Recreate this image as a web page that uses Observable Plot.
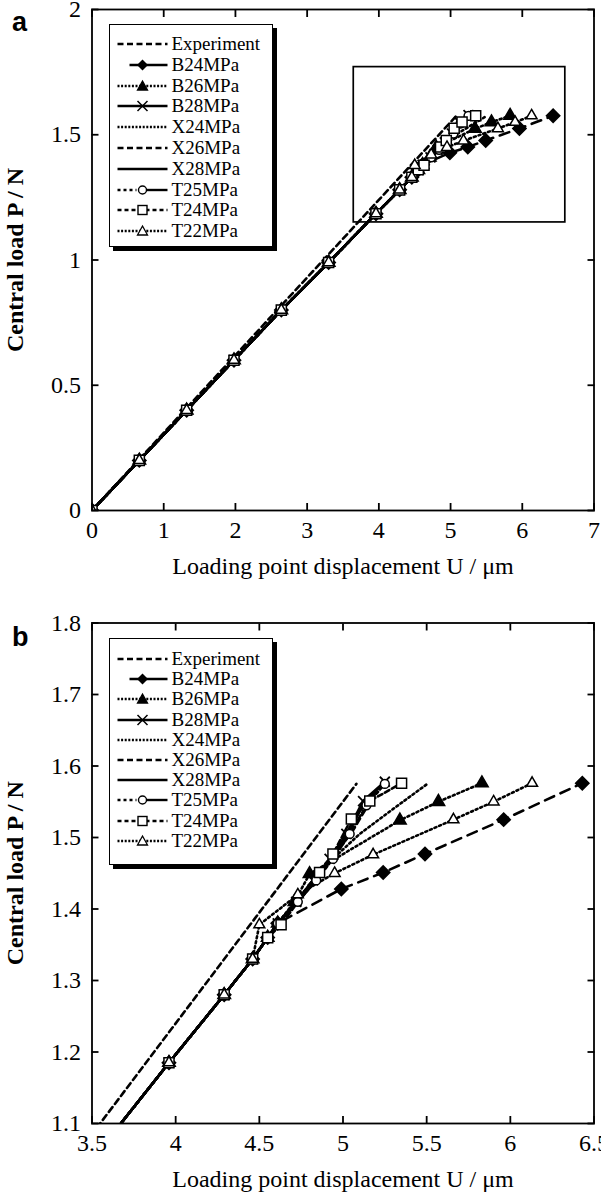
<!DOCTYPE html>
<html><head><meta charset="utf-8">
<script src="https://cdn.jsdelivr.net/npm/d3@7"></script>
<script src="https://cdn.jsdelivr.net/npm/@observablehq/plot@0.6"></script>
<style>
html,body{margin:0;padding:0;background:#fff;}
#root{position:relative;width:601px;height:1196px;overflow:hidden;font-family:"Liberation Serif","Times New Roman",serif;color:#000;}
.panel{position:absolute;left:0;}
.panel text{font-family:"Liberation Serif","Times New Roman",serif;}
.legend{position:absolute;border:1.6px solid #000;box-shadow:4px 4px 0 #000;background:#fff;box-sizing:border-box;}
.tag{position:absolute;font-family:"Liberation Sans",Arial,sans-serif;font-weight:bold;font-size:27px;line-height:27px;}
</style></head><body><div id="root"></div>
<script>
// ---- data ----
const seriesNames = ["Experiment","B24MPa","B26MPa","B28MPa","X24MPa","X26MPa","X28MPa","T25MPa","T24MPa","T22MPa"];

const U_Experiment = [0, 1.0, 2.0, 3.0, 4.0, 4.5, 5.08];
const P_Experiment = [0, 0.31, 0.62, 0.93, 1.24, 1.395, 1.575];

const U_B24 = [0, 0.66, 1.32, 1.98, 2.64, 3.30, 3.96, 4.29, 4.46, 4.55, 4.61, 4.99, 5.24, 5.49, 5.96, 6.43];
const P_B24 = [0, 0.20, 0.40, 0.60, 0.80, 0.99, 1.185, 1.28, 1.33, 1.36, 1.38, 1.428, 1.451, 1.477, 1.525, 1.576];

const U_B26 = [0, 0.66, 1.32, 1.98, 2.64, 3.30, 3.96, 4.29, 4.46, 4.55, 4.61, 4.71, 4.80, 5.34, 5.57, 5.83];
const P_B26 = [0, 0.20, 0.40, 0.60, 0.80, 0.99, 1.185, 1.28, 1.33, 1.36, 1.38, 1.41, 1.449, 1.524, 1.550, 1.576];

const U_B28 = [0, 0.66, 1.32, 1.98, 2.64, 3.30, 3.96, 4.29, 4.46, 4.55, 4.61, 4.72, 4.82, 4.92, 5.02, 5.12, 5.25];
const P_B28 = [0, 0.20, 0.40, 0.60, 0.80, 0.99, 1.185, 1.28, 1.33, 1.36, 1.38, 1.41, 1.44, 1.47, 1.505, 1.551, 1.578];

const U_X24 = [0, 0.66, 1.32, 1.98, 2.64, 3.30, 3.96, 4.29, 4.46, 4.55, 4.61, 4.72, 4.87, 5.10, 5.30, 5.51];
const P_X24 = [0, 0.20, 0.40, 0.60, 0.80, 0.99, 1.185, 1.28, 1.33, 1.36, 1.38, 1.41, 1.455, 1.505, 1.54, 1.576];

const U_X26 = [0, 0.66, 1.32, 1.98, 2.64, 3.30, 3.96, 4.29, 4.46, 4.55, 4.61, 4.73, 4.84, 4.95, 5.06, 5.20];
const P_X26 = [0, 0.20, 0.40, 0.60, 0.80, 0.99, 1.185, 1.28, 1.33, 1.36, 1.38, 1.41, 1.44, 1.475, 1.51, 1.565];

const U_X28 = [0, 0.66, 1.32, 1.98, 2.64, 3.30, 3.96, 4.29, 4.46, 4.55, 4.61, 4.72, 4.83, 4.93, 5.03, 5.13, 5.24];
const P_X28 = [0, 0.20, 0.40, 0.60, 0.80, 0.99, 1.185, 1.28, 1.33, 1.36, 1.38, 1.41, 1.44, 1.47, 1.505, 1.55, 1.575];

const U_T25 = [0, 0.66, 1.32, 1.98, 2.64, 3.30, 3.96, 4.29, 4.46, 4.55, 4.61, 4.73, 4.84, 4.94, 5.04, 5.14, 5.25];
const P_T25 = [0, 0.20, 0.40, 0.60, 0.80, 0.99, 1.185, 1.28, 1.33, 1.36, 1.38, 1.41, 1.44, 1.47, 1.505, 1.545, 1.575];

const U_T24 = [0, 0.66, 1.32, 1.98, 2.64, 3.30, 3.96, 4.29, 4.46, 4.55, 4.63, 4.86, 4.94, 5.05, 5.16, 5.35];
const P_T24 = [0, 0.20, 0.40, 0.60, 0.80, 0.99, 1.185, 1.28, 1.33, 1.36, 1.378, 1.451, 1.477, 1.526, 1.551, 1.576];

const U_T22 = [0, 0.66, 1.32, 1.98, 2.64, 3.30, 3.96, 4.29, 4.46, 4.50, 4.73, 4.95, 5.18, 5.66, 5.90, 6.13];
const P_T22 = [0, 0.20, 0.40, 0.60, 0.80, 0.99, 1.185, 1.28, 1.33, 1.378, 1.42, 1.450, 1.476, 1.525, 1.550, 1.576];

const seriesU = [U_Experiment, U_B24, U_B26, U_B28, U_X24, U_X26, U_X28, U_T25, U_T24, U_T22];
const seriesP = [P_Experiment, P_B24, P_B26, P_B28, P_X24, P_X26, P_X28, P_T25, P_T24, P_T22];

// axes / ticks
const xTicksA = [0, 1, 2, 3, 4, 5, 6, 7];
const yTicksA = [0, 0.5, 1, 1.5, 2];
const xTicksB = [3.5, 4, 4.5, 5, 5.5, 6, 6.5];
const yTicksB = [1.1, 1.2, 1.3, 1.4, 1.5, 1.6, 1.7, 1.8];
const xTitle = "Loading point displacement U / μm";
const yTitle = "Central load P / N";
// zoomed window shown in panel a (data units)
const zoomBox = [{x1: 3.65, x2: 6.6, y1: 1.15, y2: 1.77}];

// ---- styles ----
const lineDash = ["6,4", "10,7", "2,3", null, "2,3", "6,4", null, "2.5,3,2.5,3,10,3", "5,3", "2,3"];
const markSymbol = [null, "diamond2", "triangle2", "times", null, null, null, "circle", "square2", "triangle2"];
const markFill = [null, "black", "black", "none", null, null, null, "white", "white", "white"];
const markR = [0, 6, 6, 4.6, 0, 0, 0, 4.4, 6.4, 5.2];

const table = [];
seriesNames.forEach((name, i) => {
  seriesU[i].forEach((u, j) => table.push({series: name, idx: i, U: u, P: seriesP[i][j]}));
});

const FONT = "Liberation Serif, Times New Roman, serif";

function panel({xDomain, yDomain, xTicks, yTicks, height, mt, mb, box}) {
  const marks = [];
  seriesNames.forEach((name, i) => {
    const rows = table.filter(d => d.idx === i);
    marks.push(Plot.line(rows, {x: "U", y: "P", stroke: "black", strokeWidth: 2.6,
      strokeDasharray: lineDash[i] || undefined, clip: true}));
  });
  seriesNames.forEach((name, i) => {
    if (!markSymbol[i]) return;
    const rows = table.filter(d => d.idx === i);
    marks.push(Plot.dot(rows, {x: "U", y: "P", symbol: markSymbol[i], r: markR[i],
      fill: markFill[i], stroke: "black", strokeWidth: markSymbol[i] === "times" ? 1.8 : 1.5, clip: true}));
  });
  if (box) marks.push(Plot.rect(zoomBox, {x1: "x1", x2: "x2", y1: "y1", y2: "y2", fill: "none", stroke: "black", strokeWidth: 1.7}));
  marks.push(
    Plot.frame({stroke: "black", strokeWidth: 1.8}),
    Plot.axisX({anchor: "bottom", ticks: xTicks, tickSize: 0, tickPadding: 10, tickFormat: d => String(d), label: null, fontSize: 24, fontFamily: FONT}),
    Plot.axisX({anchor: "bottom", ticks: xTicks, tickSize: -7, tickFormat: () => "", label: null, strokeWidth: 1.8}),
    Plot.axisX({anchor: "top", ticks: xTicks, tickSize: -7, tickFormat: () => "", label: null, strokeWidth: 1.8}),
    Plot.axisY({anchor: "left", ticks: yTicks, tickSize: 0, tickPadding: 11, tickFormat: d => String(d), label: null, fontSize: 24, fontFamily: FONT}),
    Plot.axisY({anchor: "left", ticks: yTicks, tickSize: -7, tickFormat: () => "", label: null, strokeWidth: 1.8}),
    Plot.axisY({anchor: "right", ticks: yTicks, tickSize: -7, tickFormat: () => "", label: null, strokeWidth: 1.8}),
    Plot.text([xTitle], {text: d => d, frameAnchor: "bottom", dy: 56, lineAnchor: "middle", textAnchor: "middle", fontSize: 24, fontFamily: FONT}),
    Plot.text([yTitle], {text: d => d, frameAnchor: "left", dx: -77, rotate: -90, lineAnchor: "middle", textAnchor: "middle", fontSize: 24, fontWeight: "bold", fontFamily: FONT})
  );
  return Plot.plot({
    width: 601, height, marginTop: mt, marginBottom: mb, marginLeft: 91.5, marginRight: 7.5,
    x: {domain: xDomain}, y: {domain: yDomain},
    style: {fontFamily: FONT, fontSize: "24px", color: "black", background: "white"},
    marks
  });
}

function sample(i) {
  const y = 10, x0 = 7.5, x1 = 57.5, xc = 32.5;
  let s = "";
  if (i === 7) {
    s += `<line x1="${x0}" y1="${y}" x2="${xc - 6}" y2="${y}" stroke="black" stroke-width="2.4" stroke-dasharray="3,3"/>`;
    s += `<line x1="${xc + 4}" y1="${y}" x2="${x1}" y2="${y}" stroke="black" stroke-width="2.4"/>`;
  } else {
    const d = lineDash[i] ? `stroke-dasharray="${i === 0 || i === 5 ? "6,3.5" : i === 1 ? "none" : i === 8 ? "4,3" : "2,1.6"}"` : "";
    const start = (i === 1) ? x0 + 12 : x0;
    s += `<line x1="${start}" y1="${y}" x2="${x1}" y2="${y}" stroke="black" stroke-width="2.4" ${d}/>`;
  }
  const sym = markSymbol[i];
  if (sym === "diamond2") s += `<polygon points="${xc},${y-5.5} ${xc+5.5},${y} ${xc},${y+5.5} ${xc-5.5},${y}" fill="black"/>`;
  if (sym === "triangle2") s += `<polygon points="${xc},${y-5} ${xc+5},${y+4} ${xc-5},${y+4}" fill="${markFill[i]}" stroke="black" stroke-width="1.3"/>`;
  if (sym === "times") s += `<path d="M${xc-5},${y-5}L${xc+5},${y+5}M${xc-5},${y+5}L${xc+5},${y-5}" stroke="black" stroke-width="1.5"/>`;
  if (sym === "circle") s += `<circle cx="${xc}" cy="${y}" r="4" fill="white" stroke="black" stroke-width="1.4"/>`;
  if (sym === "square2") s += `<rect x="${xc-4.5}" y="${y-4.5}" width="9" height="9" fill="white" stroke="black" stroke-width="1.4"/>`;
  return s;
}

function addLegend(parent, left, top, width, height, firstRow, step) {
  const box = document.createElement("div");
  box.className = "legend";
  Object.assign(box.style, {left: left + "px", top: top + "px", width: width + "px", height: height + "px"});
  seriesNames.forEach((name, i) => {
    const cy = firstRow + i * step;
    const row = document.createElement("div");
    row.style.cssText = `position:absolute;left:0;top:${cy - 10}px;height:20px;width:100%;`;
    row.innerHTML = `<svg width="62" height="20" style="position:absolute;left:0;top:0">${sample(i)}</svg>` +
      `<span style="position:absolute;left:61.5px;top:0;line-height:20px;font-size:19px;white-space:nowrap">${name}</span>`;
    box.appendChild(row);
  });
  parent.appendChild(box);
}

const root = document.getElementById("root");
const a = panel({xDomain: [0, 7], yDomain: [0, 2], xTicks: xTicksA, yTicks: yTicksA, height: 590, mt: 9, mb: 80, box: true});
a.classList.add("panel"); a.style.top = "0px";
root.appendChild(a);
const b = panel({xDomain: [3.5, 6.5], yDomain: [1.1, 1.8], xTicks: xTicksB, yTicks: yTicksB, height: 606, mt: 32.5, mb: 73, box: false});
b.classList.add("panel"); b.style.top = "590px";
root.appendChild(b);

addLegend(root, 109, 24, 164, 223, 19, 20.8);
addLegend(root, 109, 638, 164, 227, 20, 20.2);

const ta = document.createElement("div"); ta.className = "tag"; ta.textContent = "a"; ta.style.left = "12px"; ta.style.top = "9px"; root.appendChild(ta);
const tb = document.createElement("div"); tb.className = "tag"; tb.textContent = "b"; tb.style.left = "12px"; tb.style.top = "624px"; root.appendChild(tb);
</script></body></html>
